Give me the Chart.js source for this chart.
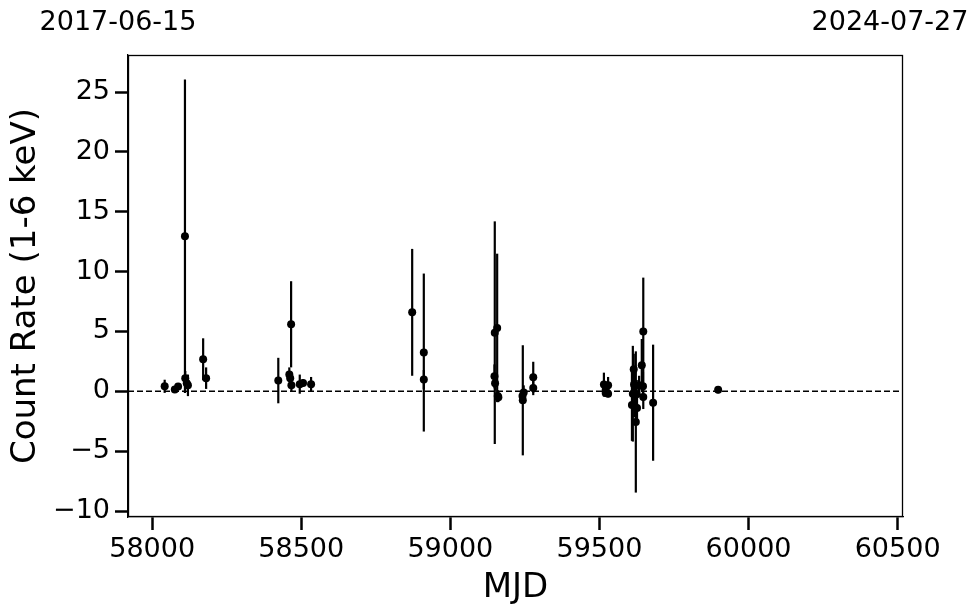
<!DOCTYPE html>
<html>
<head>
<meta charset="utf-8">
<script src="https://cdn.jsdelivr.net/npm/chart.js@4/dist/chart.umd.min.js"></script>
<style>
  html, body { margin: 0; padding: 0; background: #fff; }
  #wrap { width: 980px; height: 613px; }
</style>
</head>
<body>
<div id="wrap"><canvas id="lcChart" width="980" height="613"></canvas></div>
<script>
// observation dates (MJD), count rate and 1-sigma error
var mjd = [58042, 58076, 58087, 58110, 58111, 58116, 58120, 58171, 58181,
  58423, 58466, 58460, 58463, 58467, 58495, 58506, 58533,
  58872, 58911, 58911,
  59149, 59157, 59148, 59150, 59159, 59161,
  59242, 59243, 59246, 59278, 59278,
  59515, 59529, 59521, 59529, 59521,
  59609, 59612, 59615, 59616, 59617, 59622, 59625, 59626, 59633, 59642, 59647, 59646, 59647,
  59680, 59898];
var rate = [0.42, 0.15, 0.4, 12.96, 1.1, 0.67, 0.5, 2.68, 1.1,
  0.9, 5.6, 1.4, 1.1, 0.5, 0.6, 0.7, 0.6,
  6.6, 3.24, 0.98,
  4.9, 5.3, 1.25, 0.67, -0.4, -0.5,
  -0.4, -0.75, -0.1, 1.17, 0.28,
  0.56, 0.5, -0.14, -0.2, 0.14,
  -1.14, -0.2, 1.84, 0.56, -1.17, -2.56, -0.25, -1.4, 0.5, 2.17, 5.0, 0.42, -0.48,
  -0.95, 0.14];
var rateErr = [0.55, 0.15, 0.2, 13.1, 0.6, 0.5, 0.9, 1.75, 0.9,
  1.9, 3.6, 0.6, 0.6, 0.5, 0.8, 0.3, 0.6,
  5.3, 6.6, 0.8,
  9.3, 6.2, 1.0, 0.6, 0.5, 0.4,
  0.5, 4.6, 0.6, 1.3, 0.6,
  1.0, 0.7, 0.3, 0.3, 0.3,
  3.0, 4.0, 1.3, 1.0, 1.0, 5.9, 1.2, 1.0, 0.8, 2.2, 4.5, 1.2, 1.0,
  4.85, 0.3];

var mjdRange = [57919, 60518];
var rateRange = [-10.5, 28.1];
var mjdTicks = [58000, 58500, 59000, 59500, 60000, 60500];
var rateTicks = [-10, -5, 0, 5, 10, 15, 20, 25];
var topLabels = ['2017-06-15', '2024-07-27'];

var FONT = "'DejaVu Sans', sans-serif";

var points = mjd.map(function (m, i) { return { x: m, y: rate[i] }; });

// vertical error bars drawn through the scales
var errorBars = {
  id: 'errorBars',
  beforeDatasetsDraw: function (chart) {
    var xs = chart.scales.x, ys = chart.scales.y, ctx = chart.ctx;
    ctx.save();
    ctx.strokeStyle = '#000';
    ctx.lineWidth = 2.2;
    for (var i = 0; i < mjd.length; i++) {
      var px = xs.getPixelForValue(mjd[i]);
      ctx.beginPath();
      ctx.moveTo(px, ys.getPixelForValue(rate[i] - rateErr[i]));
      ctx.lineTo(px, ys.getPixelForValue(rate[i] + rateErr[i]));
      ctx.stroke();
    }
    ctx.restore();
  }
};

// frame and the calendar dates above the plot
var frame = {
  id: 'frame',
  afterDraw: function (chart) {
    var a = chart.chartArea, ctx = chart.ctx, xs = chart.scales.x;
    ctx.save();
    ctx.strokeStyle = '#000';
    ctx.lineWidth = 1.3;
    ctx.strokeRect(a.left + 0.5, a.top + 0.5, a.right - a.left - 1, a.bottom - a.top - 1);
    ctx.fillStyle = '#000';
    ctx.font = '27px ' + FONT;
    ctx.textAlign = 'center';
    ctx.textBaseline = 'middle';
    ctx.fillText(topLabels[0], xs.getPixelForValue(mjdRange[0]) - 10, 23);
    ctx.fillText(topLabels[1], xs.getPixelForValue(mjdRange[1]) - 13, 23);
    ctx.restore();
  }
};

function fixedTicks(list) {
  return function (s) { s.ticks = list.map(function (v) { return { value: v }; }); };
}

new Chart(document.getElementById('lcChart').getContext('2d'), {
  type: 'scatter',
  data: {
    datasets: [
      {
        label: 'rate',
        data: points,
        backgroundColor: '#000',
        borderColor: '#000',
        borderWidth: 0,
        pointRadius: 4,
        pointHoverRadius: 4
      },
      {
        label: 'zero',
        type: 'line',
        data: [{ x: mjdRange[0], y: 0 }, { x: mjdRange[1], y: 0 }],
        borderColor: '#000',
        borderWidth: 1.5,
        borderDash: [6, 3],
        pointRadius: 0,
        fill: false
      }
    ]
  },
  options: {
    responsive: false,
    animation: false,
    layout: { padding: { top: 55, right: 77, left: 0, bottom: 0 } },
    plugins: { legend: { display: false }, tooltip: { enabled: false } },
    scales: {
      x: {
        type: 'linear',
        min: mjdRange[0],
        max: mjdRange[1],
        afterBuildTicks: fixedTicks(mjdTicks),
        afterFit: function (s) { s.height = 96; },
        ticks: {
          color: '#000',
          font: { family: FONT, size: 27 },
          padding: 4,
          maxRotation: 0,
          autoSkip: false,
          callback: function (v) { return String(v); }
        },
        grid: { drawOnChartArea: false, drawTicks: true, tickLength: 13, tickWidth: 2.5, tickColor: '#000' },
        border: { display: true, color: '#000', width: 1.3 },
        title: { display: true, text: 'MJD', color: '#000', font: { family: FONT, size: 34 }, padding: { top: 0 } }
      },
      y: {
        type: 'linear',
        min: rateRange[0],
        max: rateRange[1],
        afterBuildTicks: fixedTicks(rateTicks),
        afterFit: function (s) { s.width = 128; },
        ticks: {
          color: '#000',
          font: { family: FONT, size: 27 },
          padding: 5,
          autoSkip: false,
          callback: function (v) { return String(v).replace('-', '\u2212'); }
        },
        grid: { drawOnChartArea: false, drawTicks: true, tickLength: 13, tickWidth: 2.5, tickColor: '#000' },
        border: { display: true, color: '#000', width: 1.3 },
        title: { display: true, text: 'Count Rate (1-6 keV)', color: '#000', font: { family: FONT, size: 34 }, padding: { top: 6, bottom: 0 } }
      }
    }
  },
  plugins: [errorBars, frame]
});
</script>
</body>
</html>
